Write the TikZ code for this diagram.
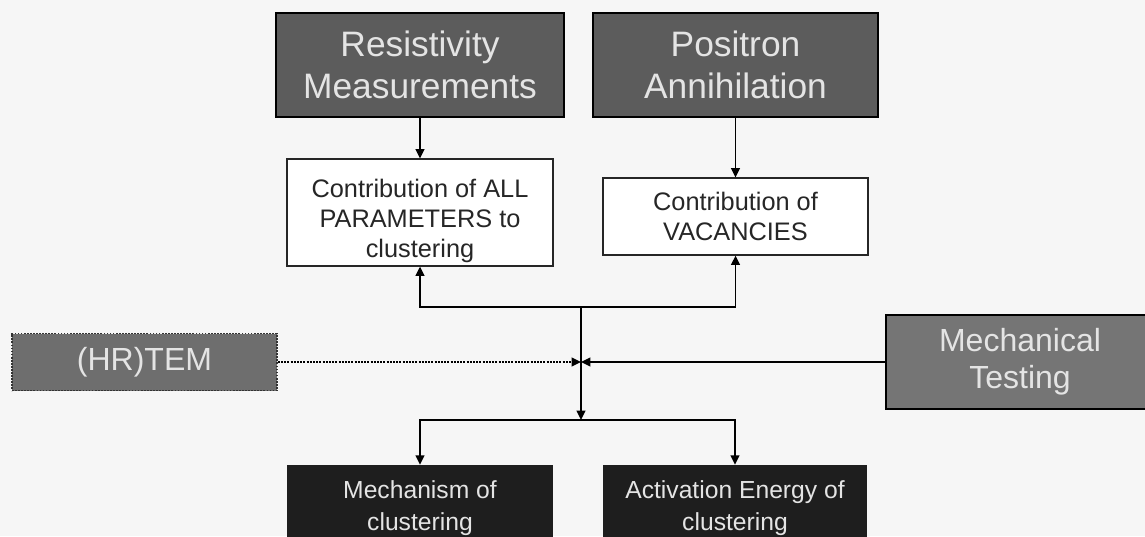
\documentclass[tikz,border=0pt]{standalone}
\usepackage{fontspec}
\setmainfont{Liberation Sans}
\usetikzlibrary{arrows.meta}
\definecolor{pagebg}{HTML}{F6F6F6}
\definecolor{methodfill}{HTML}{5C5C5C}
\definecolor{sidefill}{HTML}{6E6E6E}
\definecolor{resultfill}{HTML}{1E1E1E}
\definecolor{lighttext}{HTML}{E4E4E4}
\begin{document}
\begin{tikzpicture}[x=0.75pt,y=-0.75pt,
  method/.style={draw=black, line width=1.3pt, fill=methodfill, text=lighttext,
    inner sep=0pt, align=center, font=\fontsize{26.5}{31.5}\selectfont},
  sidebox/.style={method, font=\fontsize{24}{28}\selectfont, fill=sidefill},
  contrib/.style={draw=black!85, line width=0.9pt, fill=white, text=black!85,
    inner sep=0pt, align=center, font=\fontsize{19}{22.5}\selectfont},
  result/.style={draw=none, fill=resultfill, text=lighttext,
    inner sep=0pt, align=center, font=\fontsize{18.5}{24}\selectfont},
  link/.style={line width=1.4pt, black},
  tip/.style={-{Triangle[length=7pt,width=6.5pt]}}]
  % page area
  \clip (0,0) rectangle (1145,536);
  \fill[pagebg] (0,0) rectangle (1145,536);

  % measurement techniques
  \node[method, minimum width=216pt, minimum height=78pt] (res) at (420,65)
    {Resistivity\\Measurements};
  \node[method, minimum width=213.75pt, minimum height=78pt] (pos) at (735.5,65)
    {Positron\\Annihilation};
  \node[sidebox, draw=black!80, densely dotted, minimum width=198.75pt, minimum height=42.75pt]
    (tem) at (144.5,362) {(HR)TEM};
  \node[sidebox, fill=sidefill!95!white, minimum width=201pt, minimum height=70.5pt]
    (mech) at (1020,362) {Mechanical\\Testing};

  % what each technique contributes
  \node[contrib, minimum width=199.5pt, minimum height=80.25pt] (all) at (420,212.5)
    {\rule{0pt}{26pt}Contribution of ALL\\PARAMETERS to\\clustering};
  \node[contrib, minimum width=198.75pt, minimum height=57.75pt] (vac) at (735.5,216.5)
    {Contribution of\\VACANCIES};

  % outcomes (run on past the lower edge)
  \node[result, minimum width=199.5pt, minimum height=64.5pt] (mecha) at (420,508)
    {Mechanism of\\clustering};
  \node[result, minimum width=198pt, minimum height=64.5pt] (act) at (735,508)
    {Activation Energy of\\clustering};

  % junction points
  \coordinate (up) at (581,307);
  \coordinate (mid) at (581,362);
  \coordinate (down) at (581,420);

  % connectors
  \draw[link, tip] (res) -- (all);
  \draw[link, tip] (pos) -- (vac);
  \draw[link, tip] (up) -| (all.south);
  \draw[link, tip] (up) -| (vac.south);
  \draw[link, tip] (up) -- (down);
  \draw[link, densely dotted, tip] (tem) -- (mid);
  \draw[link, tip] (mech) -- (mid);
  \draw[link, tip] (down) -| (mecha.north);
  \draw[link, tip] (down) -| (act.north);
\end{tikzpicture}
\end{document}
